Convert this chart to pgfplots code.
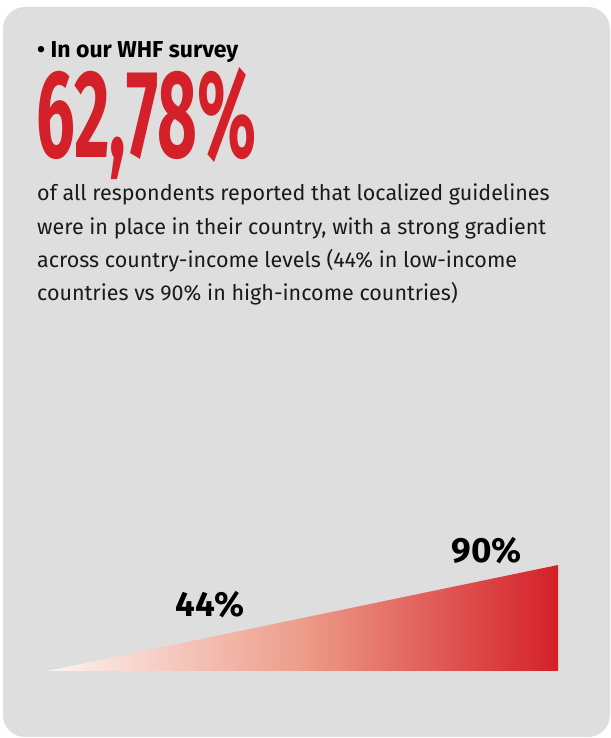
\documentclass[border=0pt]{standalone}
\usepackage{fontspec}
\setmainfont{Fira Sans}
\usepackage{pgfplots}
\pgfplotsset{compat=1.18}
\definecolor{boxgray}{HTML}{DEDEDE}
\definecolor{whfred}{HTML}{D42029}
\definecolor{gleft}{HTML}{FDF4F1}
\definecolor{gmid}{HTML}{ED9C8A}
\definecolor{txt}{HTML}{1A1A1A}
\begin{document}
\begin{tikzpicture}[x=1bp,y=1bp]
\path[use as bounding box, fill=white] (0,0) rectangle (611,738);
\fill[boxgray, rounded corners=22bp] (3,1) rectangle (610,731);
\node[anchor=base west, inner sep=0pt, text=black, font=\fontsize{23bp}{25bp}\selectfont\bfseries] at (37,680) {• In our WHF survey};
\node[anchor=base west, inner sep=0pt, text depth=0pt, text=whfred] at (36,580) {\scalebox{0.55}[1]{\fontsize{125bp}{125bp}\selectfont\bfseries 62,78\%}};
\begin{scope}[every node/.style={anchor=base west, inner sep=0pt, text height=15bp, text depth=4bp, text=txt, font=\fontsize{21.5bp}{25bp}\selectfont}]
\node at (37,537) {of all respondents reported that localized guidelines};
\node at (37,503) {were in place in their country, with a strong gradient};
\node at (37,470) {across country-income levels (44\% in low-income};
\node at (37,437) {countries vs 90\% in high-income countries)};
\end{scope}
\begin{axis}[
  at={(47bp,67bp)}, anchor=origin,
  width=511bp, height=106bp, scale only axis,
  xmin=0, xmax=1, ymin=0, ymax=90,
  axis lines=none, clip=false,
  /pgf/number format/assume math mode=true,
]
\addplot[draw=none, left color=gleft, right color=whfred, middle color=gmid] coordinates {(0,0) (1,90) (1,0)} -- cycle;
\addplot[draw=none, point meta=y,
  nodes near coords={\pgfmathprintnumber[fixed,precision=0]{\pgfplotspointmeta}\%},
  every node near coord/.append style={anchor=south, inner sep=1pt, font=\fontsize{35bp}{40bp}\selectfont\bfseries, text=black}]
  coordinates {(0.319,44) (0.861,90)};
\end{axis}
\end{tikzpicture}
\end{document}
